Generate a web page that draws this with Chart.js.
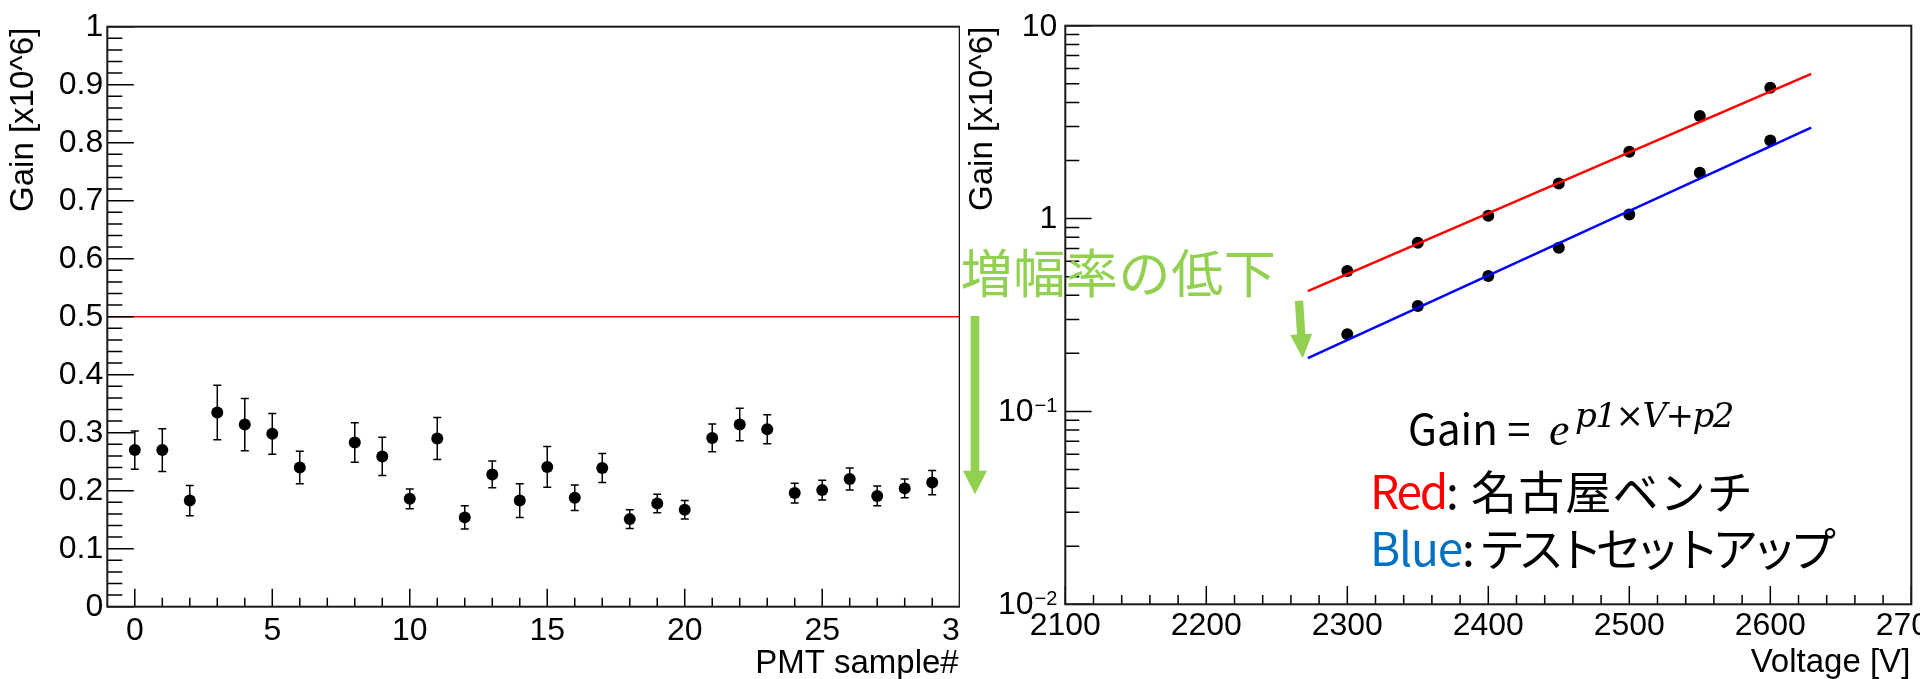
<!DOCTYPE html>
<html><head><meta charset="utf-8">
<script src="https://cdn.jsdelivr.net/npm/chart.js@4.4.1/dist/chart.umd.min.js"></script>
<style>
html,body{margin:0;padding:0;background:#fff;overflow:hidden}
#wrap{position:relative;width:1920px;height:679px;background:#fff}
.c{position:absolute;top:0;width:960px;height:679px;overflow:hidden}
canvas{display:block}
</style></head><body>
<div id="wrap">
<div class="c" style="left:0"><canvas id="left" width="1000" height="679"></canvas></div>
<div class="c" style="left:960px"><canvas id="right" width="1000" height="679"></canvas></div>
</div>
<script>
// ---------- data: left plot (gain per PMT sample) ----------
const pmtSample  = [0,1,2,3,4,5,6,8,9,10,11,12,13,14,15,16,17,18,19,20,21,22,23,24,25,26,27,28,29];
const pmtGain    = [0.270,0.270,0.183,0.335,0.314,0.298,0.240,0.283,0.259,0.186,0.290,0.154,0.228,0.183,0.241,0.188,0.239,0.151,0.178,0.167,0.291,0.314,0.306,0.196,0.201,0.220,0.191,0.204,0.214];
const pmtGainErr = [0.033,0.037,0.026,0.047,0.045,0.035,0.028,0.034,0.033,0.017,0.036,0.020,0.023,0.029,0.035,0.022,0.025,0.016,0.016,0.016,0.024,0.028,0.025,0.017,0.017,0.019,0.017,0.016,0.021];
const gainLimitX = [-1, 30];
const gainLimitY = [0.5, 0.5];
const leftXTicks = [0,5,10,15,20,25,30];
const leftYTicks = [0,0.1,0.2,0.3,0.4,0.5,0.6,0.7,0.8,0.9,1];
const leftYLabels = ['0','0.1','0.2','0.3','0.4','0.5','0.6','0.7','0.8','0.9','1'];
const leftXTitle = 'PMT sample#';
const leftYTitle = 'Gain [x10^6]';

// ---------- data: right plot (gain vs voltage) ----------
const voltage   = [2300,2350,2400,2450,2500,2550,2600];
const gainRed   = [0.535,0.75,1.035,1.52,2.22,3.40,4.77];
const gainBlue  = [0.251,0.352,0.504,0.706,1.05,1.73,2.54];
const fitVoltage = [2272, 2629];
const fitRed     = [0.421, 5.62];
const fitBlue    = [0.189, 2.96];
const rightXTicks = [2100,2200,2300,2400,2500,2600,2700];
const rightYTicks = [0.01,0.1,1,10];
const rightYTickBase = ['10','10','1','10'];
const rightYTickExp  = ['\u22122','\u22121','',''];
const rightXTitle = 'Voltage [V]';
const rightYTitle = 'Gain [x10^6]';

const AXFONT = '"Liberation Sans", Arial, Helvetica, sans-serif';
const JPFONT = '"Noto Sans CJK JP", "Noto Sans", sans-serif';
const pts = (xs, ys) => xs.map((x, i) => ({x, y: ys[i]}));

function frameAndTicks(chart, spec) {
  const {ctx, chartArea: ca} = chart;
  const xs = chart.scales.x, ys = chart.scales.y;
  ctx.save();
  ctx.strokeStyle = '#000';
  ctx.lineWidth = 1.5;
  ctx.beginPath();
  spec.xMajor.forEach(v => { const p = xs.getPixelForValue(v); ctx.moveTo(p, ca.bottom); ctx.lineTo(p, ca.bottom - spec.xMajorLen); });
  spec.xMinor.forEach(v => { const p = xs.getPixelForValue(v); ctx.moveTo(p, ca.bottom); ctx.lineTo(p, ca.bottom - spec.xMinorLen); });
  spec.yMajor.forEach(v => { const p = ys.getPixelForValue(v); ctx.moveTo(ca.left, p); ctx.lineTo(ca.left + spec.yMajorLen, p); });
  spec.yMinor.forEach(v => { const p = ys.getPixelForValue(v); ctx.moveTo(ca.left, p); ctx.lineTo(ca.left + spec.yMinorLen, p); });
  ctx.stroke();
  ctx.lineWidth = 2;
  ctx.strokeStyle = '#1a1a1a';
  ctx.strokeRect(ca.left, ca.top, ca.right - ca.left, ca.bottom - ca.top);
  // axis titles (ROOT style: right / top aligned)
  ctx.fillStyle = '#000';
  ctx.font = '33px ' + AXFONT;
  ctx.textBaseline = 'alphabetic';
  ctx.textAlign = 'right';
  ctx.fillText(spec.xTitle, ca.right - 1, spec.xTitleBase);
  ctx.translate(spec.yTitleBase, ca.top + 1);
  ctx.rotate(-Math.PI / 2);
  ctx.fillText(spec.yTitle, 0, 0);
  ctx.restore();
}

// ---------- left chart ----------
const leftMinorX = []; for (let k = 1; k < 30; k++) if (k % 5) leftMinorX.push(k);
const leftMinorY = []; for (let k = 1; k < 50; k++) if (k % 5) leftMinorY.push(k * 0.02);

const leftDecor = {
  id: 'leftDecor',
  beforeDatasetsDraw(chart) {
    const {ctx, scales: {x, y}} = chart;
    ctx.save();
    ctx.strokeStyle = '#000';
    ctx.lineWidth = 1.5;
    ctx.beginPath();
    pmtSample.forEach((s, i) => {
      const px = x.getPixelForValue(s);
      const yt = y.getPixelForValue(pmtGain[i] + pmtGainErr[i]);
      const yb = y.getPixelForValue(pmtGain[i] - pmtGainErr[i]);
      ctx.moveTo(px, yt); ctx.lineTo(px, yb);
      ctx.moveTo(px - 4, yt); ctx.lineTo(px + 4, yt);
      ctx.moveTo(px - 4, yb); ctx.lineTo(px + 4, yb);
    });
    ctx.stroke();
    ctx.restore();
  },
  afterDraw(chart) {
    frameAndTicks(chart, {
      xMajor: leftXTicks, xMinor: leftMinorX, xMajorLen: 18, xMinorLen: 9,
      yMajor: leftYTicks, yMinor: leftMinorY, yMajorLen: 26.5, yMinorLen: 15,
      xTitle: leftXTitle, xTitleBase: 673.3, yTitle: leftYTitle, yTitleBase: 32.7
    });
  }
};

new Chart(document.getElementById('left'), {
  type: 'scatter',
  data: {
    datasets: [
      { data: pts(pmtSample, pmtGain), pointRadius: 6, pointBackgroundColor: '#000', pointBorderColor: '#000', pointBorderWidth: 0, showLine: false },
      { data: pts(gainLimitX, gainLimitY), showLine: true, borderColor: '#ff0000', borderWidth: 1.6, pointRadius: 0 }
    ]
  },
  options: {
    responsive: false, animation: false, devicePixelRatio: 1,
    layout: { padding: { top: 26.7, right: 40.3, bottom: 0, left: 0 } },
    plugins: { legend: { display: false }, tooltip: { enabled: false } },
    scales: {
      x: {
        type: 'linear', min: -1, max: 30,
        afterBuildTicks: s => { s.ticks = leftXTicks.map(v => ({value: v})); },
        afterFit: s => { s.height = 72.3; s.paddingLeft = 0; s.paddingRight = 0; },
        grid: { display: false, drawTicks: false }, border: { display: false },
        ticks: { autoSkip: false, maxRotation: 0, padding: 5, color: '#000', font: { family: AXFONT, size: 32 }, callback: v => String(v) },
        title: { display: false }
      },
      y: {
        type: 'linear', min: 0, max: 1,
        afterBuildTicks: s => { s.ticks = leftYTicks.map(v => ({value: v})); },
        afterFit: s => { s.width = 107.3; s.paddingTop = 0; s.paddingBottom = 0; },
        grid: { display: false, drawTicks: false }, border: { display: false },
        ticks: { autoSkip: false, padding: 4, color: '#000', font: { family: AXFONT, size: 32 },
                 callback: (v) => { const i = leftYTicks.findIndex(t => Math.abs(t - v) < 1e-9); return i >= 0 ? leftYLabels[i] : ''; } },
        title: { display: false }
      }
    }
  },
  plugins: [leftDecor]
});

// ---------- right chart ----------
const rightMinorX = []; for (let v = 2120; v < 2700; v += 20) if (v % 100) rightMinorX.push(v);
const rightMinorY = []; for (const d of [0.01, 0.1, 1]) for (let m = 2; m <= 9; m++) rightMinorY.push(m * d);

function arrow(ctx, x1, y1, x2, y2, shaftW, headW, headL, color) {
  const ang = Math.atan2(y2 - y1, x2 - x1);
  const len = Math.hypot(x2 - x1, y2 - y1);
  ctx.save();
  ctx.translate(x1, y1);
  ctx.rotate(ang);
  ctx.fillStyle = color;
  ctx.beginPath();
  ctx.moveTo(0, -shaftW / 2);
  ctx.lineTo(len - headL, -shaftW / 2);
  ctx.lineTo(len - headL, -headW / 2);
  ctx.lineTo(len, 0);
  ctx.lineTo(len - headL, headW / 2);
  ctx.lineTo(len - headL, shaftW / 2);
  ctx.lineTo(0, shaftW / 2);
  ctx.closePath();
  ctx.fill();
  ctx.restore();
}

function fitText(ctx, text, x, y, width) {
  ctx.letterSpacing = '0px';
  const w = ctx.measureText(text).width;
  const n = [...text].length;
  ctx.letterSpacing = ((width - w) / n).toFixed(2) + 'px';
  ctx.fillText(text, x, y);
  ctx.letterSpacing = '0px';
}

const rightDecor = {
  id: 'rightDecor',
  afterDraw(chart) {
    const {ctx, chartArea: ca} = chart;
    const ys = chart.scales.y;
    frameAndTicks(chart, {
      xMajor: rightXTicks, xMinor: rightMinorX, xMajorLen: 18.3, xMinorLen: 9.3,
      yMajor: rightYTicks, yMinor: rightMinorY, yMajorLen: 26.3, yMinorLen: 14,
      xTitle: rightXTitle, xTitleBase: 671.7, yTitle: rightYTitle, yTitleBase: 32.3
    });
    // y tick labels with exponents
    ctx.save();
    ctx.fillStyle = '#000';
    rightYTicks.forEach((v, i) => {
      const py = ys.getPixelForValue(v);
      const right = ca.left - 8;
      ctx.font = '20px ' + AXFONT;
      const we = rightYTickExp[i] ? ctx.measureText(rightYTickExp[i]).width + 1 : 0;
      ctx.font = '32px ' + AXFONT;
      ctx.textAlign = 'right';
      ctx.textBaseline = 'middle';
      ctx.fillText(rightYTickBase[i], right - we, py + 1);
      if (rightYTickExp[i]) {
        ctx.font = '20px ' + AXFONT;
        ctx.textAlign = 'left';
        ctx.textBaseline = 'alphabetic';
        ctx.fillText(rightYTickExp[i], right - we + 1, py + 1);
      }
    });
    ctx.restore();

    // annotations
    ctx.save();
    const green = '#92D050';
    ctx.fillStyle = green;
    ctx.textAlign = 'left';
    ctx.textBaseline = 'alphabetic';
    ctx.font = '52px ' + JPFONT;
    fitText(ctx, '増幅率の低下', 0.5, 293, 316);
    arrow(ctx, 15, 316, 15, 494.3, 8.6, 24, 23.6, green);
    arrow(ctx, 339, 300.7, 342.7, 358.3, 8.3, 22, 24, green);

    // formula
    ctx.fillStyle = '#000';
    ctx.font = '42px ' + JPFONT;
    ctx.fillText('Gain = ', 448, 445);
    ctx.font = 'italic 46px "Liberation Serif", "DejaVu Serif", serif';
    ctx.fillText('e', 589, 445);
    ctx.font = 'italic 34px "DejaVu Serif", "Liberation Serif", serif';
    fitText(ctx, 'p1×V+p2', 615, 427, 158);

    // legend lines
    ctx.font = '46px ' + JPFONT;
    ctx.fillStyle = '#ff0000';
    fitText(ctx, 'Red', 410, 509, 76);
    ctx.fillStyle = '#000';
    ctx.fillText(':', 486, 509);
    fitText(ctx, '名古屋ベンチ', 511, 509, 283);

    ctx.fillStyle = '#0070C0';
    fitText(ctx, 'Blue', 410, 566, 92);
    ctx.fillStyle = '#000';
    ctx.fillText(':', 502, 566);
    fitText(ctx, 'テストセットアップ', 519, 566, 350);
    ctx.restore();
  }
};

new Chart(document.getElementById('right'), {
  type: 'scatter',
  data: {
    datasets: [
      { data: pts(fitVoltage, fitRed), showLine: true, borderColor: '#ff0000', borderWidth: 2.5, pointRadius: 0 },
      { data: pts(fitVoltage, fitBlue), showLine: true, borderColor: '#0000ff', borderWidth: 2.5, pointRadius: 0 },
      { data: pts(voltage, gainRed), pointRadius: 6, pointBackgroundColor: '#000', pointBorderColor: '#000', pointBorderWidth: 0, showLine: false },
      { data: pts(voltage, gainBlue), pointRadius: 6, pointBackgroundColor: '#000', pointBorderColor: '#000', pointBorderWidth: 0, showLine: false }
    ]
  },
  options: {
    responsive: false, animation: false, devicePixelRatio: 1,
    layout: { padding: { top: 25.7, right: 48.7, bottom: 0, left: 0 } },
    plugins: { legend: { display: false }, tooltip: { enabled: false } },
    scales: {
      x: {
        type: 'linear', min: 2100, max: 2700,
        afterBuildTicks: s => { s.ticks = rightXTicks.map(v => ({value: v})); },
        afterFit: s => { s.height = 74.7; s.paddingLeft = 0; s.paddingRight = 0; },
        grid: { display: false, drawTicks: false }, border: { display: false },
        ticks: { autoSkip: false, maxRotation: 0, padding: 2.5, color: '#000', font: { family: AXFONT, size: 32 }, callback: v => String(v) },
        title: { display: false }
      },
      y: {
        type: 'logarithmic', min: 0.01, max: 10,
        afterBuildTicks: s => { s.ticks = rightYTicks.map(v => ({value: v})); },
        afterFit: s => { s.width = 105.3; s.paddingTop = 0; s.paddingBottom = 0; },
        grid: { display: false, drawTicks: false }, border: { display: false },
        ticks: { display: false },
        title: { display: false }
      }
    }
  },
  plugins: [rightDecor]
});
</script>
</body></html>
